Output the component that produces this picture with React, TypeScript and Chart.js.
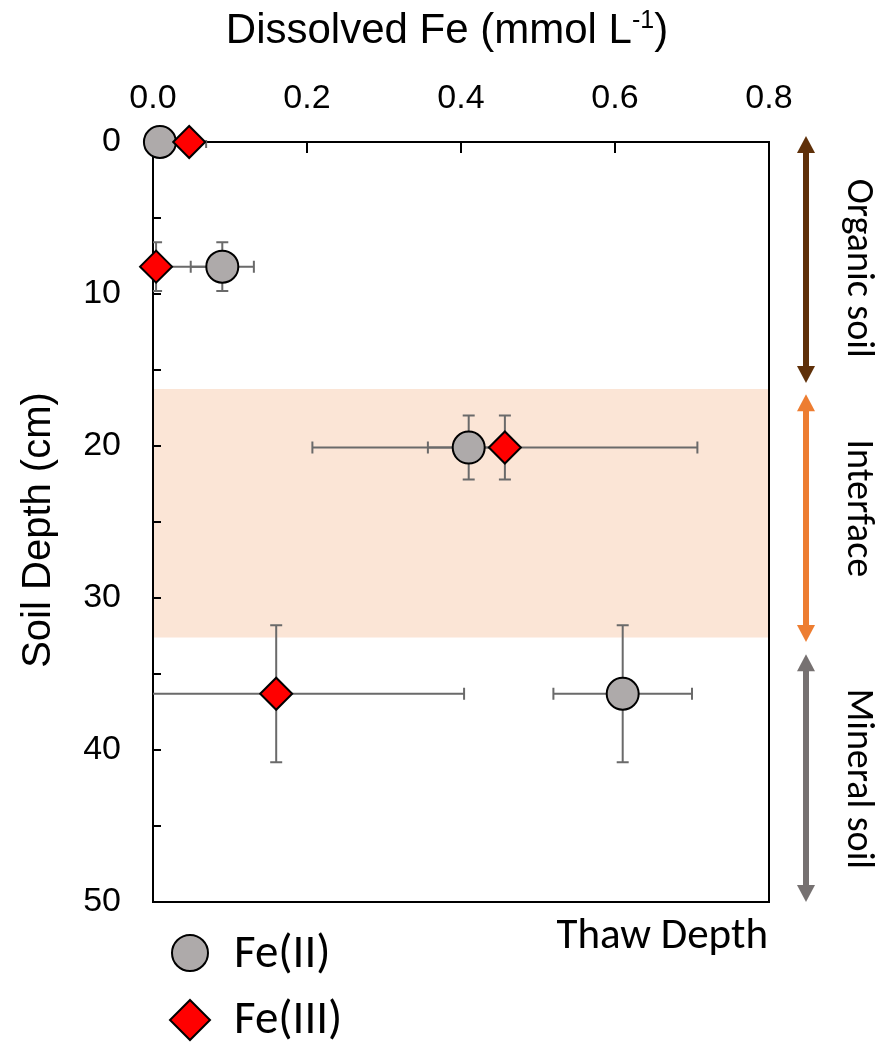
import React, { useEffect, useRef } from 'react';
import { Chart, registerables } from 'chart.js';

Chart.register(...registerables);

// ---- data ----
const feIIConc = [0.009, 0.09, 0.41, 0.61];
const feIIDepth = [0, 8.2, 20.1, 36.3];
const feIIConcErr = [0, 0.041, 0.053, 0.09];
const feIIDepthErr = [0, 1.6, 2.1, 4.5];

const feIIIConc = [0.047, 0.004, 0.457, 0.16];
const feIIIDepth = [0, 8.2, 20.1, 36.3];
const feIIIConcErr = [0.022, 0.075, 0.25, 0.244];
const feIIIDepthErr = [0, 1.6, 2.1, 4.5];

const interfaceBand = [16.25, 32.6];

const zoneLabels = ['Organic soil', 'Interface', 'Mineral soil'];
const zoneStart = [-0.4, 16.6, 33.7];
const zoneEnd = [15.85, 32.9, 50];
const zoneLabelDepth = [8.3, 24.1, 41.9];
const zoneColors = ['#5f3009', '#ed7d31', '#767171'];

const seriesNames = ['Fe(II)', 'Fe(III)'];
const xTitle = 'Dissolved Fe (mmol L';
const xTitleSup = '-1';
const yTitle = 'Soil Depth (cm)';
const thawLabel = 'Thaw Depth';

const ARIAL = '"Liberation Sans", Arial, sans-serif';
const CAL = 'Carlito, Calibri, Lato, sans-serif';

function drawDiamond(ctx: CanvasRenderingContext2D, x: number, y: number, r: number) {
  ctx.beginPath();
  ctx.moveTo(x, y - r);
  ctx.lineTo(x + r, y);
  ctx.lineTo(x, y + r);
  ctx.lineTo(x - r, y);
  ctx.closePath();
}

const decorations = {
  id: 'decorations',
  beforeDraw(chart: any) {
    const { ctx, chartArea: a, scales } = chart;
    const y = scales.y;
    const y0 = y.getPixelForValue(interfaceBand[0]);
    const y1 = y.getPixelForValue(interfaceBand[1]);
    ctx.save();
    ctx.fillStyle = '#fbe5d6';
    ctx.fillRect(a.left, y0, a.right - a.left, y1 - y0);
    ctx.restore();
  },
  beforeDatasetsDraw(chart: any) {
    const { ctx, chartArea: a, scales } = chart;
    const x = scales.x;
    const y = scales.y;
    ctx.save();
    // right & bottom frame
    ctx.strokeStyle = '#000';
    ctx.lineWidth = 2;
    ctx.beginPath();
    ctx.moveTo(a.right, a.top);
    ctx.lineTo(a.right, a.bottom);
    ctx.lineTo(a.left, a.bottom);
    ctx.stroke();
    // inward ticks
    ctx.beginPath();
    x.ticks.forEach((_t: any, i: number) => {
      const px = x.getPixelForTick(i);
      ctx.moveTo(px, a.top);
      ctx.lineTo(px, a.top + 11);
    });
    y.ticks.forEach((_t: any, i: number) => {
      const py = y.getPixelForTick(i);
      ctx.moveTo(a.left, py);
      ctx.lineTo(a.left + 8, py);
    });
    ctx.stroke();

    // error bars
    ctx.beginPath();
    ctx.rect(a.left, a.top - 2, a.right - a.left, a.bottom - a.top + 4);
    ctx.clip();
    ctx.strokeStyle = '#6a6a6a';
    ctx.lineWidth = 2;
    const series = [
      [feIIConc, feIIDepth, feIIConcErr, feIIDepthErr],
      [feIIIConc, feIIIDepth, feIIIConcErr, feIIIDepthErr],
    ];
    const cap = 6;
    series.forEach(([cx, cy, ex, ey]) => {
      cx.forEach((c, i) => {
        const px = x.getPixelForValue(c);
        const py = y.getPixelForValue(cy[i]);
        ctx.beginPath();
        if (ex[i] > 0) {
          const l = x.getPixelForValue(c - ex[i]);
          const r = x.getPixelForValue(c + ex[i]);
          ctx.moveTo(l, py); ctx.lineTo(r, py);
          ctx.moveTo(l, py - cap); ctx.lineTo(l, py + cap);
          ctx.moveTo(r, py - cap); ctx.lineTo(r, py + cap);
        }
        if (ey[i] > 0) {
          const t = y.getPixelForValue(cy[i] - ey[i]);
          const b = y.getPixelForValue(cy[i] + ey[i]);
          ctx.moveTo(px, t); ctx.lineTo(px, b);
          ctx.moveTo(px - cap, t); ctx.lineTo(px + cap, t);
          ctx.moveTo(px - cap, b); ctx.lineTo(px + cap, b);
        }
        ctx.stroke();
      });
    });
    ctx.restore();
  },
  afterDraw(chart: any) {
    const { ctx, chartArea: a, scales } = chart;
    const y = scales.y;
    ctx.save();
    ctx.fillStyle = '#000';
    // x title with superscript
    ctx.textBaseline = 'alphabetic';
    ctx.textAlign = 'left';
    ctx.font = `42px ${ARIAL}`;
    const w1 = ctx.measureText(xTitle).width;
    const w3 = ctx.measureText(')').width;
    ctx.font = `25px ${ARIAL}`;
    const w2 = ctx.measureText(xTitleSup).width;
    const cx = 447;
    const sx = cx - (w1 + w2 + w3) / 2;
    ctx.font = `42px ${ARIAL}`;
    ctx.fillText(xTitle, sx, 43);
    ctx.font = `25px ${ARIAL}`;
    ctx.fillText(xTitleSup, sx + w1, 28);
    ctx.font = `42px ${ARIAL}`;
    ctx.fillText(')', sx + w1 + w2, 43);

    // y title
    ctx.save();
    ctx.font = `40px ${ARIAL}`;
    ctx.translate(50, 530);
    ctx.rotate(-Math.PI / 2);
    ctx.textAlign = 'center';
    ctx.fillText(yTitle, 0, 0);
    ctx.restore();

    // zones on the right
    const ax = 806;
    const head = 17;
    const hw = 9;
    zoneLabels.forEach((lab, i) => {
      const t = y.getPixelForValue(zoneStart[i]);
      const b = y.getPixelForValue(zoneEnd[i]);
      ctx.strokeStyle = zoneColors[i];
      ctx.fillStyle = zoneColors[i];
      ctx.lineWidth = 6;
      ctx.beginPath();
      ctx.moveTo(ax, t + head - 2);
      ctx.lineTo(ax, b - head + 2);
      ctx.stroke();
      ctx.beginPath();
      ctx.moveTo(ax, t);
      ctx.lineTo(ax + hw, t + head);
      ctx.lineTo(ax - hw, t + head);
      ctx.closePath();
      ctx.fill();
      ctx.beginPath();
      ctx.moveTo(ax, b);
      ctx.lineTo(ax + hw, b - head);
      ctx.lineTo(ax - hw, b - head);
      ctx.closePath();
      ctx.fill();
      ctx.save();
      ctx.translate(857, y.getPixelForValue(zoneLabelDepth[i]));
      ctx.rotate(Math.PI / 2);
      ctx.fillStyle = '#000';
      ctx.font = `38px ${CAL}`;
      ctx.textAlign = 'center';
      ctx.textBaseline = 'middle';
      ctx.fillText(lab, 0, 0);
      ctx.restore();
    });

    // thaw depth
    ctx.fillStyle = '#000';
    ctx.font = `43px ${CAL}`;
    ctx.textAlign = 'right';
    ctx.textBaseline = 'middle';
    ctx.fillText(thawLabel, a.right - 1, 937);

    // legend
    ctx.lineWidth = 2;
    ctx.strokeStyle = '#000';
    ctx.fillStyle = '#aeaaaa';
    ctx.beginPath();
    ctx.arc(190, 953, 18, 0, Math.PI * 2);
    ctx.fill();
    ctx.stroke();
    ctx.fillStyle = '#ff0000';
    drawDiamond(ctx, 190, 1020, 20);
    ctx.fill();
    ctx.stroke();
    ctx.fillStyle = '#000';
    ctx.font = `47px ${CAL}`;
    ctx.textAlign = 'left';
    ctx.textBaseline = 'middle';
    ctx.fillText(seriesNames[0], 234, 955);
    ctx.fillText(seriesNames[1], 234, 1021);
    ctx.restore();
  },
};

export default function App() {
  const ref = useRef<HTMLCanvasElement | null>(null);
  useEffect(() => {
    if (!ref.current) return;
    const chart = new Chart(ref.current, {
      type: 'scatter',
      data: {
        datasets: [
          {
            label: seriesNames[0],
            data: feIIConc.map((c, i) => ({ x: c, y: feIIDepth[i] })),
            pointStyle: 'circle',
            pointRadius: 16,
            pointHoverRadius: 16,
            backgroundColor: '#aeaaaa',
            borderColor: '#000',
            borderWidth: 2,
            clip: false,
            order: 2,
          },
          {
            label: seriesNames[1],
            data: feIIIConc.map((c, i) => ({ x: c, y: feIIIDepth[i] })),
            pointStyle: 'rectRot',
            pointRadius: 16,
            pointHoverRadius: 16,
            backgroundColor: '#ff0000',
            borderColor: '#000',
            borderWidth: 2,
            clip: false,
            order: 1,
          },
        ],
      },
      options: {
        responsive: true,
        maintainAspectRatio: false,
        animation: false,
        devicePixelRatio: 1,
        layout: { padding: { left: 0, top: 0, right: 114, bottom: 141 } },
        plugins: { legend: { display: false }, tooltip: { enabled: false } },
        events: [],
        scales: {
          x: {
            type: 'linear',
            position: 'top',
            min: 0,
            max: 0.8,
            ticks: {
              stepSize: 0.2,
              autoSkip: false,
              maxRotation: 0,
              padding: 23,
              color: '#000',
              font: { family: ARIAL, size: 34 },
              callback: (v: any) => Number(v).toFixed(1),
            },
            grid: { display: false, drawTicks: false },
            border: { display: true, color: '#000', width: 2 },
            afterFit: (s: any) => { s.height = 142; },
          },
          y: {
            type: 'linear',
            reverse: true,
            min: 0,
            max: 50,
            ticks: {
              stepSize: 5,
              autoSkip: false,
              padding: 32,
              color: '#000',
              font: { family: ARIAL, size: 34 },
              callback: (v: any) => (Number(v) % 10 === 0 ? String(v) : ''),
            },
            grid: { display: false, drawTicks: false },
            border: { display: true, color: '#000', width: 2 },
            afterFit: (s: any) => { s.width = 153; },
          },
        },
      },
      plugins: [decorations],
    } as any);
    return () => chart.destroy();
  }, []);
  return (
    <div style={{ position: 'absolute', left: 0, top: 0, width: 883, height: 1043, background: '#fff' }}>
      <canvas ref={ref} />
    </div>
  );
}
